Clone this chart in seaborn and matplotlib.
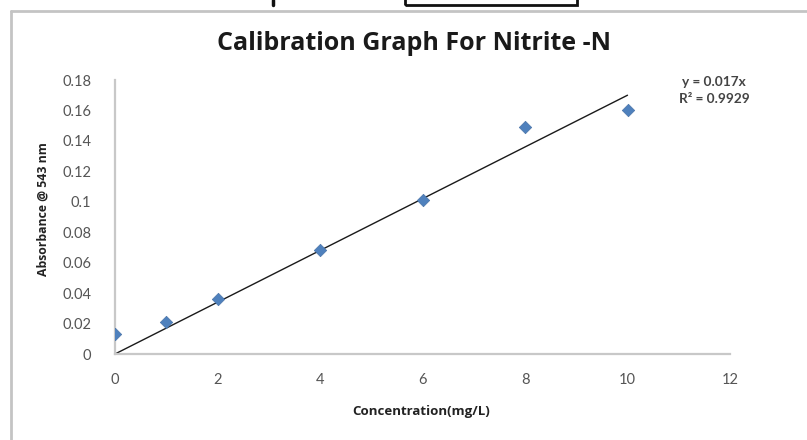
import matplotlib
matplotlib.use("Agg")
import matplotlib.pyplot as plt
import seaborn as sns
import pandas as pd
import numpy as np
from matplotlib.patches import Rectangle
from matplotlib.lines import Line2D

# Data
concentration = [0, 1, 2, 4, 6, 8, 10]
absorbance = [0.013, 0.021, 0.036, 0.068, 0.101, 0.149, 0.160]
slope = 0.017
r_squared = 0.9929
x_ticks = [0, 2, 4, 6, 8, 10, 12]
y_ticks = [0, 0.02, 0.04, 0.06, 0.08, 0.1, 0.12, 0.14, 0.16, 0.18]
y_tick_labels = ["0", "0.02", "0.04", "0.06", "0.08", "0.1", "0.12", "0.14", "0.16", "0.18"]
title = "Calibration Graph For Nitrite -N"
x_label = "Concentration(mg/L)"
y_label = "Absorbance @ 543 nm"

sns.set_theme(style="white")
plt.rcParams['font.family'] = ['Lato', 'DejaVu Sans']

df = pd.DataFrame({"conc": concentration, "abs": absorbance})

fig = plt.figure(figsize=(8.07, 4.40), dpi=100)
ax = fig.add_axes([115/807, 1 - 354/440, (730 - 115)/807, (354 - 80)/440])

# trendline through origin
fit_x = np.array([0, concentration[-1]])
sns.lineplot(x=fit_x, y=slope * fit_x, ax=ax, color="#1a1a1a", linewidth=1.0, zorder=2)

sns.scatterplot(data=df, x="conc", y="abs", ax=ax, marker="D", s=40,
                color="#4f81bd", edgecolor="#4a74a8", linewidth=0.5, zorder=3)

ax.set_xlim(0, 12)
ax.set_ylim(0, 0.18)
ax.set_xticks(x_ticks)
ax.set_xticklabels([str(t) for t in x_ticks])
ax.set_yticks(y_ticks)
ax.set_yticklabels(y_tick_labels)
ax.tick_params(axis="both", length=0, labelsize=10.5, labelcolor="#555555")
ax.tick_params(axis="x", pad=14)
ax.tick_params(axis="y", pad=17)

for side in ["top", "right"]:
    ax.spines[side].set_visible(False)
for side in ["left", "bottom"]:
    ax.spines[side].set_color("#c8c8c8")
    ax.spines[side].set_linewidth(1.6)

ax.set_xlabel(x_label, fontsize=9.5, fontweight="bold", color="#222222",
              family=['Open Sans', 'DejaVu Sans'])
ax.set_ylabel(y_label, fontsize=8.8, fontweight="bold", color="#222222",
              family=['Open Sans', 'DejaVu Sans'])
ax.xaxis.set_label_coords((421 - 115) / 615, -(405 - 354) / 274)
ax.yaxis.set_label_coords(-(115 - 50) / 615, (354 - 209) / 274)

fig.text(414 / 807, 1 - 44 / 440, title, ha="center", va="center",
         fontsize=18, fontweight="bold", color="#1a1a1a",
         family=['Open Sans', 'DejaVu Sans'])

fig.text(714 / 807, 1 - 82 / 440, f"y = {slope}x", ha="center", va="center",
         fontsize=9.8, fontweight="bold", color="#444444")
fig.text(714 / 807, 1 - 99 / 440, f"R² = {r_squared}", ha="center", va="center",
         fontsize=9.8, fontweight="bold", color="#444444")

# chart frame
fig.add_artist(Line2D([11 / 807, 1.0], [1 - 11 / 440, 1 - 11 / 440],
                      color="#c4c4c4", linewidth=2, transform=fig.transFigure))
fig.add_artist(Line2D([11 / 807, 11 / 807], [1 - 11 / 440, 0.0],
                      color="#c4c4c4", linewidth=2, transform=fig.transFigure))

# page fragments above the chart
fig.add_artist(Rectangle((405 / 807, 1 - 5 / 440), (577 - 405) / 807, 20 / 440,
                         fill=False, edgecolor="#111111", linewidth=2,
                         transform=fig.transFigure, clip_on=False))
fig.add_artist(Line2D([273 / 807, 273 / 807], [1.0, 1 - 5 / 440],
                      color="#111111", linewidth=2.5, transform=fig.transFigure))

fig.savefig("out.png", dpi=100, facecolor="white")
